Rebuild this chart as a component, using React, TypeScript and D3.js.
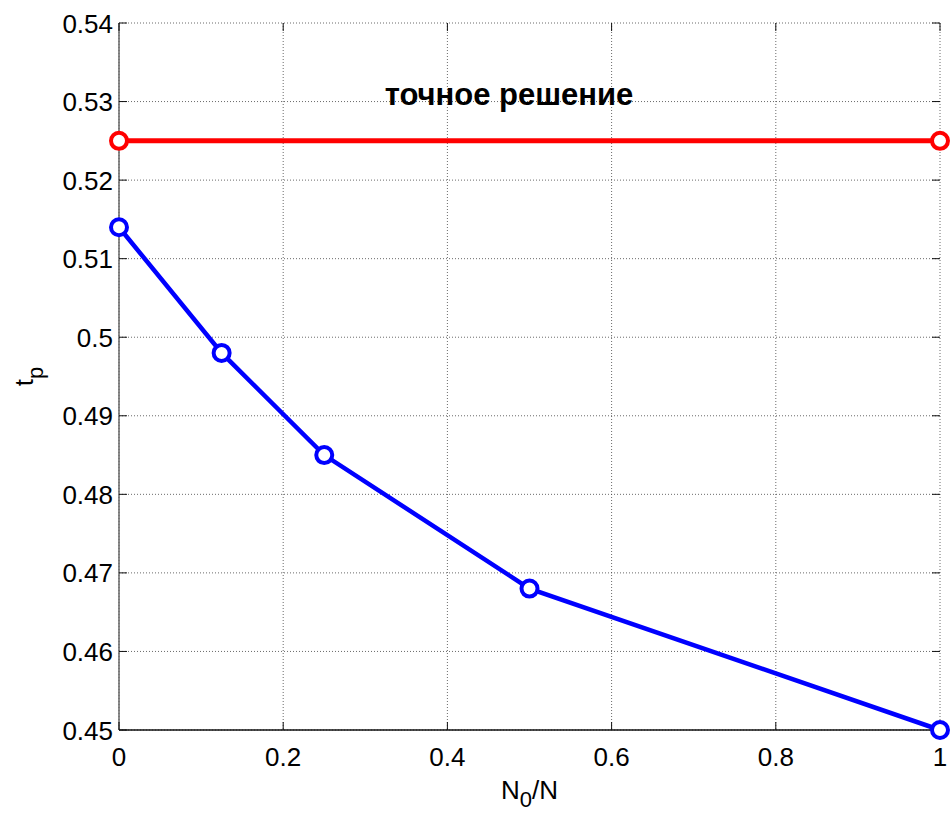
import React, { useEffect, useRef } from "react";
import * as d3 from "d3";

// data
const ratioValues = [0, 0.125, 0.25, 0.5, 1];
const approxValues = [0.514, 0.498, 0.485, 0.468, 0.45];
const exactX = [0, 1];
const exactValues = [0.525, 0.525];
const xTicks = [0, 0.2, 0.4, 0.6, 0.8, 1];
const yTicks = [0.45, 0.46, 0.47, 0.48, 0.49, 0.5, 0.51, 0.52, 0.53, 0.54];
const annotation = "точное решение";

const App = () => {
  const ref = useRef<SVGSVGElement>(null);

  useEffect(() => {
    document.body.style.margin = "0";
    document.body.style.overflow = "hidden";

    const width = 951;
    const height = 814;
    const margin = { top: 23, right: 11, bottom: 84, left: 119 };
    const innerW = width - margin.left - margin.right;
    const innerH = height - margin.top - margin.bottom;
    const font = "'Liberation Sans', Arial, sans-serif";

    const svg = d3.select(ref.current);
    svg.selectAll("*").remove();
    svg.attr("width", width).attr("height", height);

    svg.append("rect").attr("width", width).attr("height", height).attr("fill", "white");

    const x = d3.scaleLinear().domain([0, 1]).range([0, innerW]);
    const y = d3.scaleLinear().domain([0.45, 0.54]).range([innerH, 0]);

    const g = svg.append("g").attr("transform", `translate(${margin.left},${margin.top})`);

    // grid
    xTicks.forEach((t) => {
      g.append("line")
        .attr("x1", x(t)).attr("x2", x(t))
        .attr("y1", 0).attr("y2", innerH)
        .style("stroke", "#444")
        .style("stroke-width", 0.8)
        .style("stroke-dasharray", "1,2");
    });
    yTicks.forEach((t) => {
      g.append("line")
        .attr("x1", 0).attr("x2", innerW)
        .attr("y1", y(t)).attr("y2", y(t))
        .style("stroke", "#444")
        .style("stroke-width", 0.8)
        .style("stroke-dasharray", "1,2");
    });

    // axis lines
    g.append("line")
      .attr("x1", 0).attr("x2", 0).attr("y1", 0).attr("y2", innerH)
      .style("stroke", "#666").style("stroke-width", 1.5);
    g.append("line")
      .attr("x1", 0).attr("x2", innerW).attr("y1", innerH).attr("y2", innerH)
      .style("stroke", "#111").style("stroke-width", 1.5);

    // tick marks (inward, all four sides)
    const tl = 8;
    yTicks.forEach((t) => {
      g.append("line").attr("x1", 0).attr("x2", tl).attr("y1", y(t)).attr("y2", y(t))
        .style("stroke", "#111").style("stroke-width", 1);
      g.append("line").attr("x1", innerW - tl).attr("x2", innerW).attr("y1", y(t)).attr("y2", y(t))
        .style("stroke", "#111").style("stroke-width", 1);
    });
    xTicks.forEach((t) => {
      g.append("line").attr("x1", x(t)).attr("x2", x(t)).attr("y1", innerH).attr("y2", innerH - tl)
        .style("stroke", "#111").style("stroke-width", 1);
      g.append("line").attr("x1", x(t)).attr("x2", x(t)).attr("y1", 0).attr("y2", tl)
        .style("stroke", "#111").style("stroke-width", 1);
    });

    // tick labels
    yTicks.forEach((t) => {
      g.append("text")
        .attr("x", -6)
        .attr("y", y(t) + 9.5)
        .attr("text-anchor", "end")
        .style("font-family", font)
        .style("font-size", "26px")
        .text(d3.format("")(+t.toFixed(2)));
    });
    xTicks.forEach((t) => {
      g.append("text")
        .attr("x", x(t))
        .attr("y", innerH + 36)
        .attr("text-anchor", "middle")
        .style("font-family", font)
        .style("font-size", "26px")
        .text(d3.format("")(+t.toFixed(1)));
    });

    // axis labels
    const xl = svg.append("text")
      .attr("x", margin.left + innerW / 2)
      .attr("y", 799)
      .attr("text-anchor", "middle")
      .style("font-family", font)
      .style("font-size", "26px");
    xl.append("tspan").text("N");
    xl.append("tspan").attr("dy", 8).style("font-size", "22px").text("0");
    xl.append("tspan").attr("dy", -8).text("/N");

    const yl = svg.append("text")
      .attr("transform", `translate(33,${margin.top + innerH / 2}) rotate(-90)`)
      .attr("text-anchor", "middle")
      .style("font-family", font)
      .style("font-size", "26px");
    yl.append("tspan").text("t");
    yl.append("tspan").attr("dy", 10).style("font-size", "22px").text("p");

    // series
    const line = d3.line<[number, number]>()
      .x((d) => x(d[0]))
      .y((d) => y(d[1]));

    const series = [
      { xs: exactX, ys: exactValues, color: "#ff0000", w: 5 },
      { xs: ratioValues, ys: approxValues, color: "#0000ff", w: 4.5 },
    ];

    series.forEach((s) => {
      const pts = s.xs.map((v, i) => [v, s.ys[i]] as [number, number]);
      g.append("path")
        .datum(pts)
        .attr("d", line)
        .style("fill", "none")
        .style("stroke", s.color)
        .style("stroke-width", s.w);
      pts.forEach((p) => {
        g.append("circle")
          .attr("cx", x(p[0]))
          .attr("cy", y(p[1]))
          .attr("r", 8)
          .style("fill", "white")
          .style("stroke", s.color)
          .style("stroke-width", 4);
      });
    });

    // annotation
    g.append("text")
      .attr("x", 390)
      .attr("y", 82)
      .attr("text-anchor", "middle")
      .style("font-family", font)
      .style("font-size", "31px")
      .style("font-weight", "bold")
      .text(annotation);
  }, []);

  return <svg ref={ref} style={{ display: "block" }}></svg>;
};

export default App;
